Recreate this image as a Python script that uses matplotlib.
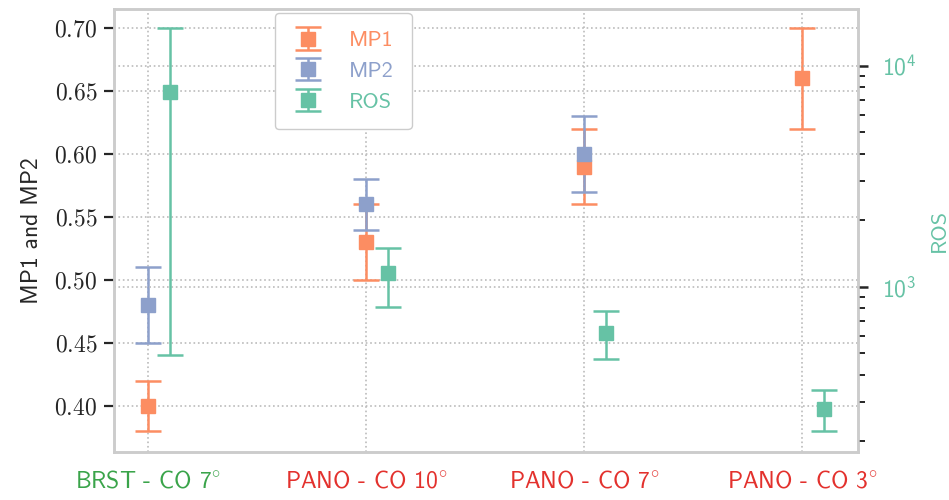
import numpy as np
import matplotlib
matplotlib.use("Agg")
import matplotlib.pyplot as plt
from matplotlib.ticker import FormatStrFormatter, LogLocator

# data
categories = [r"BRST - CO 7$^{\circ}$", r"PANO - CO 10$^{\circ}$",
              r"PANO - CO 7$^{\circ}$", r"PANO - CO 3$^{\circ}$"]
category_colors = ["#3aa44a", "#e3312d", "#e3312d", "#e3312d"]

mp1 = [0.40, 0.53, 0.59, 0.66]
mp1_low = [0.38, 0.50, 0.56, 0.62]
mp1_high = [0.42, 0.56, 0.62, 0.70]

mp2 = [0.48, 0.56, 0.60, np.nan]
mp2_low = [0.45, 0.54, 0.57, np.nan]
mp2_high = [0.51, 0.58, 0.63, np.nan]

ros = [7600, 1160, 620, 280]
ros_low = [490, 810, 470, 223]
ros_high = [14900, 1500, 780, 342]

C_MP1 = "#fc8d62"
C_MP2 = "#8da0cb"
C_ROS = "#66c2a5"

plt.rcParams["mathtext.fontset"] = "cm"
plt.rcParams["font.family"] = ["cmss10", "DejaVu Sans"]
plt.rcParams["axes.unicode_minus"] = False


def err(v, lo, hi):
    v, lo, hi = np.array(v), np.array(lo), np.array(hi)
    return np.vstack([v - lo, hi - v])


fig, ax = plt.subplots(figsize=(9.49, 5.0), dpi=100)
fig.subplots_adjust(left=0.120, right=0.904, top=0.982, bottom=0.096)
ax2 = ax.twinx()

x = np.arange(len(categories))
style = dict(fmt="s", markersize=10.5, capsize=9.5, elinewidth=1.8, capthick=1.8)

h1 = ax.errorbar(x, mp1, yerr=err(mp1, mp1_low, mp1_high), color=C_MP1, label="MP1", **style)
h2 = ax.errorbar(x, mp2, yerr=err(mp2, mp2_low, mp2_high), color=C_MP2, label="MP2", **style)
h3 = ax2.errorbar(x + 0.1, ros, yerr=err(ros, ros_low, ros_high), color=C_ROS, label="ROS", **style)

# left axis
ax.set_ylim(0.3635, 0.715)
ax.set_xlim(-0.155, 3.255)
ax.set_yticks([0.40, 0.45, 0.50, 0.55, 0.60, 0.65, 0.70])
ax.yaxis.set_major_formatter(FormatStrFormatter(r"$%.2f$"))
ax.set_ylabel("MP1 and MP2", fontsize=17, color="#262626", labelpad=8)
ax.set_xticks(x)
ax.set_xticklabels(categories, fontsize=17)
for lbl, c in zip(ax.get_xticklabels(), category_colors):
    lbl.set_color(c)
ax.tick_params(axis="y", labelsize=17, length=7, width=1.6, color="#262626",
               labelcolor="#262626", pad=5)
ax.tick_params(axis="x", length=0, pad=13)
ax.grid(True, linestyle=":", color="#bbbbbb", linewidth=1.2)

# right axis
ax2.set_yscale("log")
ax2.set_ylim(179, 18100)
ax2.yaxis.set_major_locator(LogLocator(base=10))
ax2.yaxis.set_minor_locator(LogLocator(base=10, subs=np.arange(2, 10)))
ax2.tick_params(axis="y", which="major", labelsize=17, length=7, width=1.8,
                color="#262626", labelcolor=C_ROS, pad=10)
ax2.tick_params(axis="y", which="minor", length=5, width=1.4, color="#262626")
ax2.set_ylabel("ROS", fontsize=16, color=C_ROS)
ax2.yaxis.set_label_coords(1.097, 0.5)
ax2.grid(True, which="major", axis="y", linestyle=":", color="#bbbbbb", linewidth=1.2)

for a in (ax, ax2):
    for s in a.spines.values():
        s.set_color("#cccccc")
        s.set_linewidth(1.8)
ax.set_facecolor("white")

leg = ax2.legend([h1, h2, h3], ["MP1", "MP2", "ROS"], loc="upper left",
                 bbox_to_anchor=(0.2164, 0.991), borderaxespad=0, fontsize=16,
                 frameon=True, edgecolor="#cccccc", framealpha=1.0,
                 handlelength=1.4, handletextpad=1.15, borderpad=0.8,
                 labelspacing=0.5)
for t, c in zip(leg.get_texts(), [C_MP1, C_MP2, C_ROS]):
    t.set_color(c)

fig.savefig("out.png", dpi=100)
